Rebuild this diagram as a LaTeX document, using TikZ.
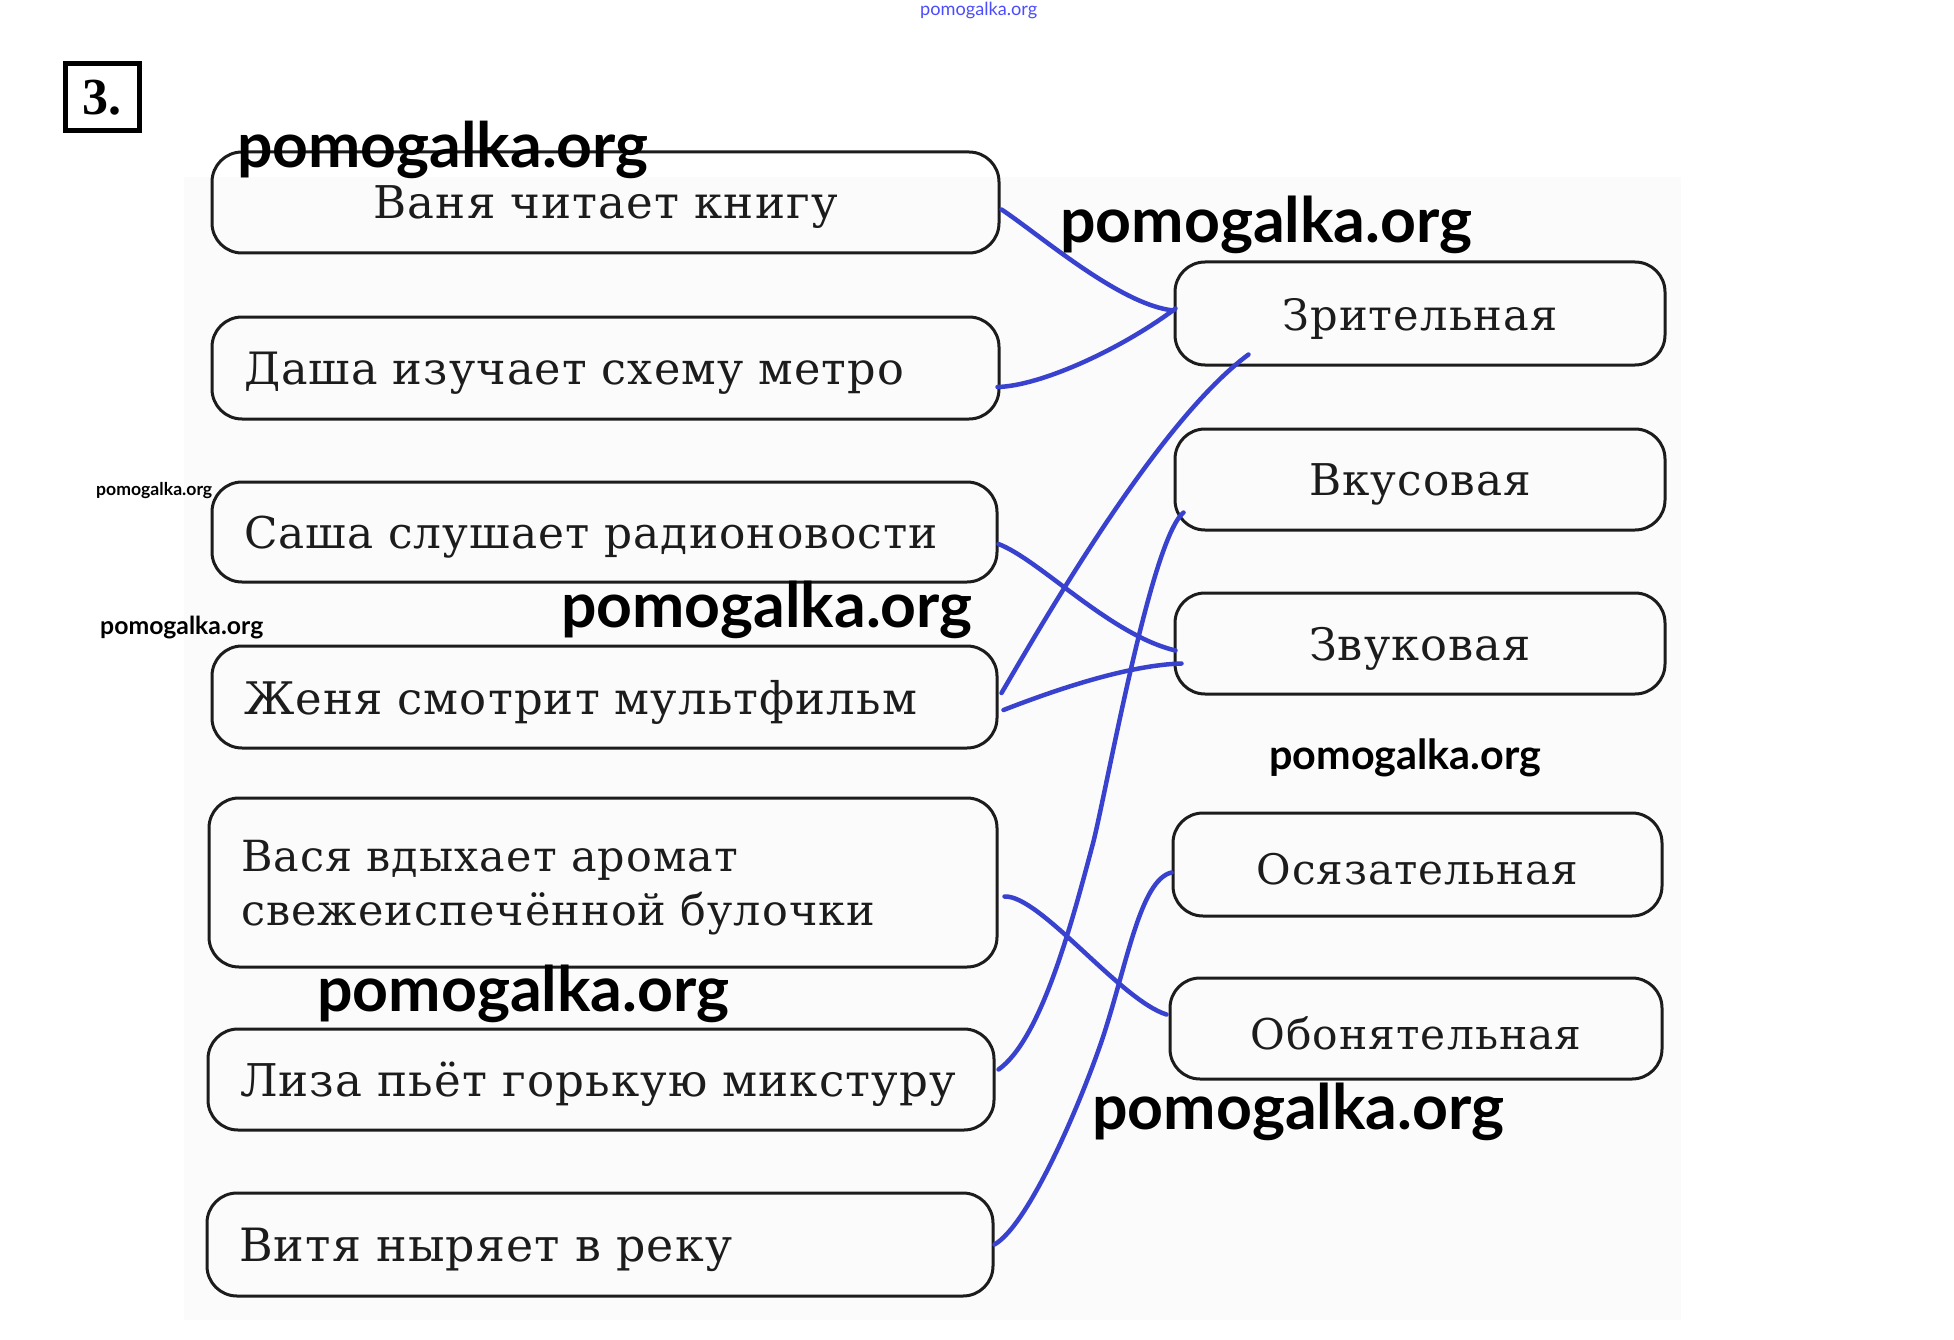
\documentclass[tikz,border=0pt]{standalone}
\usepackage{fontspec}
\usepackage{graphicx}
\setmainfont{DejaVu Serif}
\newfontfamily\boxfont{DejaVu Serif}[LetterSpace=2.5,WordSpace=2]
\newfontfamily\wmfont{Lato}
\newfontfamily\numfont{Liberation Serif}
\usetikzlibrary{calc}
\definecolor{ink}{RGB}{28,28,28}
\definecolor{pen}{RGB}{56,66,206}
\definecolor{scan}{RGB}{251,251,251}
\newcommand{\fitto}[2]{\resizebox{#1pt}{!}{#2}}
\newcommand{\lowtext}[2]{\raisebox{-5pt}[\height][\depth]{\resizebox{#1pt}{!}{#2}}}
\begin{document}
\begin{tikzpicture}[x=1pt,y=-1pt,
  card/.style={draw=ink, line width=3pt, rounded corners=30pt, inner ysep=0pt, inner xsep=32pt, text=ink, font={\boxfont\fontsize{41pt}{52pt}\selectfont}},
  rcard/.style={card, inner xsep=0pt},
  link/.style={draw=pen, line width=4.5pt, line cap=round, line join=round},
  wm/.style={inner sep=0pt, anchor=base west, font={\wmfont\bfseries}, text=black},
]
\useasboundingbox (0,0) rectangle (1954,1340);
\fill[white] (0,0) rectangle (1954,1340);
\fill[scan] (184,177) rectangle (1681,1320);

\node[draw=black, line width=5pt, minimum width=74pt, minimum height=67pt, inner sep=0pt, font=\numfont\bfseries] (num) at (102,97.5) {\fitto{39}{3.}};

% left cards
\node[card, text width=723pt, minimum height=101pt, align=center] (b1) at (605.5,202.5) {\lowtext{464}{Ваня читает книгу}};
\node[card, text width=723pt, minimum height=102pt, align=left] (b2) at (605.5,368) {\lowtext{660}{Даша изучает схему метро}};
\node[card, text width=721pt, minimum height=100pt, align=left] (b3) at (604.5,532) {\lowtext{694}{Саша слушает радионовости}};
\node[card, text width=721pt, minimum height=102pt, align=left] (b4) at (604.5,697) {\lowtext{673}{Женя смотрит мультфильм}};
\node[card, text width=724pt, minimum height=169pt, align=left] (b5) at (603,882.5) {\lowtext{634}{\begin{tabular}{@{}l@{}}Вася вдыхает аромат\\свежеиспечённой булочки\end{tabular}}};
\node[card, text width=722pt, minimum height=101pt, align=left] (b6) at (601,1079.5) {\lowtext{716}{Лиза пьёт горькую микстуру}};
\node[card, text width=722pt, minimum height=103pt, align=left] (b7) at (600,1244.5) {\lowtext{493}{Витя ныряет в реку}};

% right cards
\node[rcard, minimum width=490pt, minimum height=103pt] (r1) at (1420,313.5) {\lowtext{275}{Зрительная}};
\node[rcard, minimum width=490pt, minimum height=101pt] (r2) at (1420,479.5) {\lowtext{222}{Вкусовая}};
\node[rcard, minimum width=490pt, minimum height=101pt] (r3) at (1420,643.5) {\lowtext{222}{Звуковая}};
\node[rcard, minimum width=489pt, minimum height=103pt] (r4) at (1417.5,864.5) {\lowtext{322}{Осязательная}};
\node[rcard, minimum width=492pt, minimum height=101pt] (r5) at (1416,1028.5) {\lowtext{331}{Обонятельная}};

% links
\draw[link] ($(b1.east)+(1,7)$) .. controls (1040,235) and (1120,305) .. ($(r1.west)+(0,-3)$);
\draw[link] ($(b2.east)+(-3,19)$) .. controls (1040,386) and (1120,350) .. ($(r1.west)+(2,-5)$);
\draw[link] ($(b3.east)+(0,12)$) .. controls (1040,560) and (1110,635) .. ($(r3.west)+(2,7)$);
\draw[link] ($(b4.east)+(3,-4)$) .. controls (1050,610) and (1160,420) .. ($(r1.south west)+(75,-12)$);
\draw[link] ($(b4.east)+(5,13)$) .. controls (1060,688) and (1130,665) .. ($(r3.west)+(8,20)$);
\draw[link] ($(b5.east)+(6,14)$) .. controls (1040,895) and (1120,1000) .. ($(r5.west)+(-2,-14)$);
\draw[link] ($(b6.east)+(3,-10)$) .. controls (1040,1040) and (1070,930) .. (1092,847)
  .. controls (1104,805) and (1150,540) .. ($(r2.south west)+(10,-19)$);
\draw[link] (b7.east) .. controls (1028,1225) and (1078,1110) .. (1102,1040)
  .. controls (1127,965) and (1140,880) .. ($(r4.west)+(0,8)$);

% watermarks
\node[wm] (w1) at (237,168) {\fitto{411}{pomogalka.org}};
\node[wm] (w2) at (1060,243) {\fitto{412}{pomogalka.org}};
\node[wm] (w3) at (96,495) {\fitto{116}{pomogalka.org}};
\node[wm] (w4) at (100,634) {\fitto{163}{pomogalka.org}};
\node[wm] (w5) at (561,627) {\fitto{411}{pomogalka.org}};
\node[wm] (w6) at (1269,769) {\fitto{272}{pomogalka.org}};
\node[wm] (w7) at (317,1011) {\fitto{412}{pomogalka.org}};
\node[wm] (w8) at (1092,1129) {\fitto{412}{pomogalka.org}};
\node[wm, font=\wmfont, text=blue!70!white] (w9) at (920,16) {\fitto{117}{pomogalka.org}};
\end{tikzpicture}
\end{document}
